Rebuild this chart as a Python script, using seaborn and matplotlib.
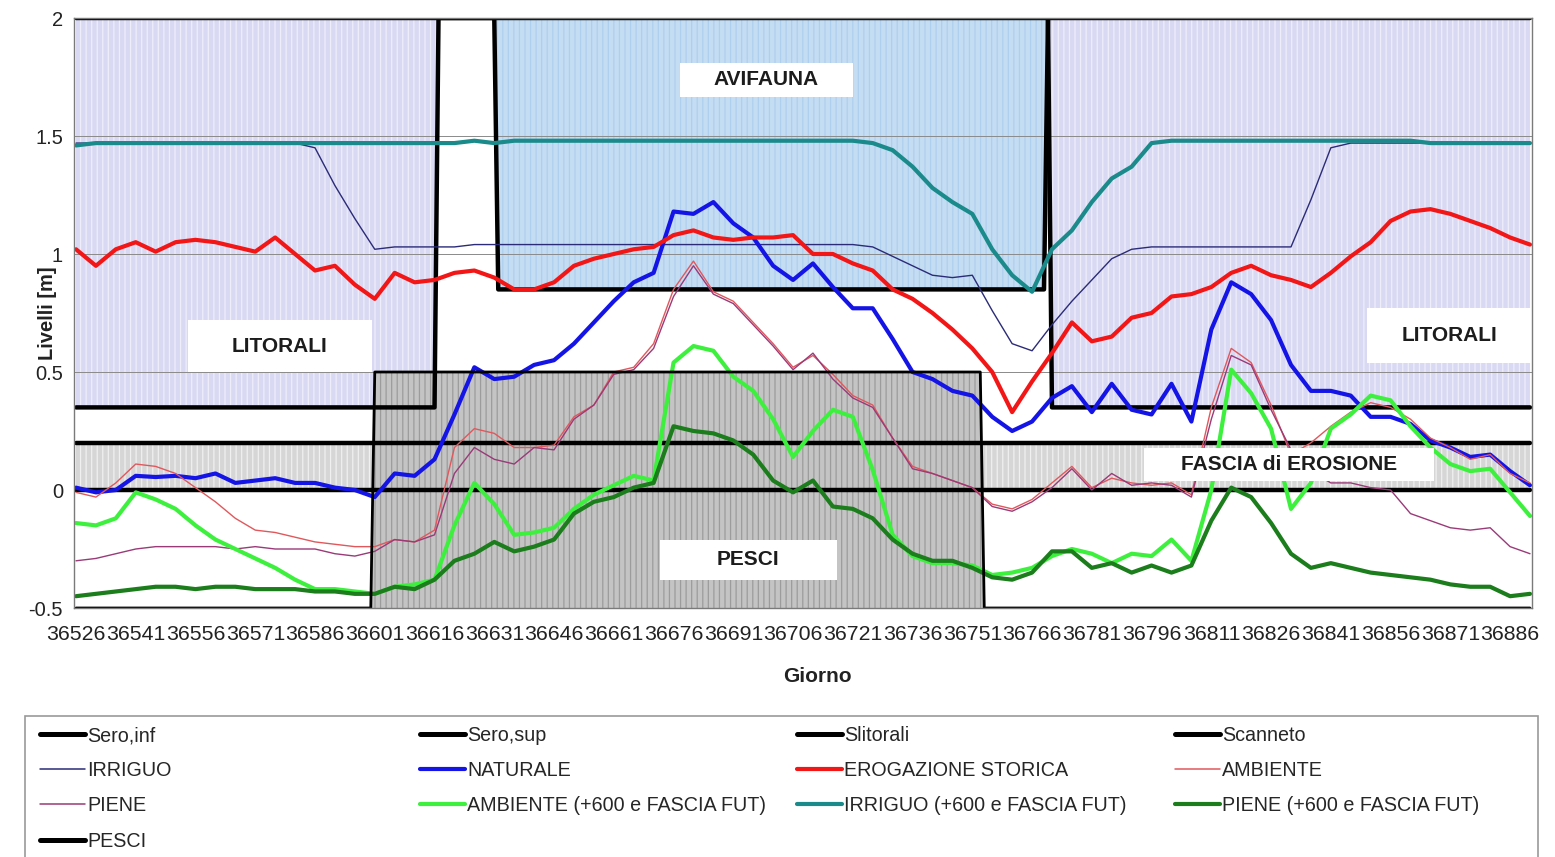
import numpy as np
import matplotlib
matplotlib.use("Agg")
import matplotlib.pyplot as plt
import seaborn as sns
from matplotlib.patches import Rectangle
from matplotlib.lines import Line2D
from matplotlib.ticker import FixedLocator

# ---------------- data ----------------
days = np.arange(36526, 36892, 5)  # sampled every 5 days

irriguo_fut = [1.46, 1.47, 1.47, 1.47, 1.47, 1.47, 1.47, 1.47, 1.47, 1.47,
               1.47, 1.47, 1.47, 1.47, 1.47, 1.47, 1.47, 1.47, 1.47, 1.47,
               1.48, 1.47, 1.48, 1.48, 1.48, 1.48, 1.48, 1.48, 1.48, 1.48,
               1.48, 1.48, 1.48, 1.48, 1.48, 1.48, 1.48, 1.48, 1.48, 1.48,
               1.47, 1.44, 1.37, 1.28, 1.22, 1.17, 1.02, 0.91, 0.84, 1.02,
               1.10, 1.22, 1.32, 1.37, 1.47, 1.48, 1.48, 1.48, 1.48, 1.48,
               1.48, 1.48, 1.48, 1.48, 1.48, 1.48, 1.48, 1.48, 1.47, 1.47,
               1.47, 1.47, 1.47, 1.47]

irriguo = [1.47, 1.47, 1.47, 1.47, 1.47, 1.47, 1.47, 1.47, 1.47, 1.47,
           1.47, 1.47, 1.45, 1.29, 1.15, 1.02, 1.03, 1.03, 1.03, 1.03,
           1.04, 1.04, 1.04, 1.04, 1.04, 1.04, 1.04, 1.04, 1.04, 1.04,
           1.04, 1.04, 1.04, 1.04, 1.04, 1.04, 1.04, 1.04, 1.04, 1.04,
           1.03, 0.99, 0.95, 0.91, 0.90, 0.91, 0.76, 0.62, 0.59, 0.70,
           0.80, 0.89, 0.98, 1.02, 1.03, 1.03, 1.03, 1.03, 1.03, 1.03,
           1.03, 1.03, 1.23, 1.45, 1.47, 1.47, 1.47, 1.47, 1.47, 1.47,
           1.47, 1.47, 1.47, 1.47]

erogazione = [1.02, 0.95, 1.02, 1.05, 1.01, 1.05, 1.06, 1.05, 1.03, 1.01,
              1.07, 1.00, 0.93, 0.95, 0.87, 0.81, 0.92, 0.88, 0.89, 0.92,
              0.93, 0.90, 0.85, 0.85, 0.88, 0.95, 0.98, 1.00, 1.02, 1.03,
              1.08, 1.10, 1.07, 1.06, 1.07, 1.07, 1.08, 1.00, 1.00, 0.96,
              0.93, 0.85, 0.81, 0.75, 0.68, 0.60, 0.50, 0.33, 0.46, 0.58,
              0.71, 0.63, 0.65, 0.73, 0.75, 0.82, 0.83, 0.86, 0.92, 0.95,
              0.91, 0.89, 0.86, 0.92, 0.99, 1.05, 1.14, 1.18, 1.19, 1.17,
              1.14, 1.11, 1.07, 1.04]

naturale = [0.01, -0.01, 0.00, 0.06, 0.055, 0.06, 0.05, 0.07, 0.03, 0.04,
            0.05, 0.03, 0.03, 0.01, 0.00, -0.03, 0.07, 0.06, 0.13, 0.32,
            0.52, 0.47, 0.48, 0.53, 0.55, 0.62, 0.71, 0.80, 0.88, 0.92,
            1.18, 1.17, 1.22, 1.13, 1.07, 0.95, 0.89, 0.96, 0.86, 0.77,
            0.77, 0.64, 0.50, 0.47, 0.42, 0.40, 0.31, 0.25, 0.29, 0.39,
            0.44, 0.33, 0.45, 0.34, 0.32, 0.45, 0.29, 0.68, 0.88, 0.83,
            0.72, 0.53, 0.42, 0.42, 0.40, 0.31, 0.31, 0.28, 0.21, 0.18,
            0.14, 0.15, 0.08, 0.02]

ambiente = [-0.01, -0.03, 0.03, 0.11, 0.10, 0.07, 0.01, -0.05, -0.12, -0.17,
            -0.18, -0.20, -0.22, -0.23, -0.24, -0.24, -0.21, -0.22, -0.17, 0.18,
            0.26, 0.24, 0.18, 0.18, 0.19, 0.31, 0.36, 0.50, 0.52, 0.62,
            0.85, 0.97, 0.84, 0.80, 0.71, 0.62, 0.52, 0.57, 0.49, 0.40,
            0.36, 0.22, 0.10, 0.07, 0.04, 0.01, -0.06, -0.08, -0.04, 0.03,
            0.10, 0.01, 0.05, 0.03, 0.02, 0.03, -0.02, 0.35, 0.60, 0.54,
            0.36, 0.15, 0.20, 0.27, 0.33, 0.37, 0.35, 0.30, 0.22, 0.18,
            0.13, 0.15, 0.07, 0.03]

piene = [-0.30, -0.29, -0.27, -0.25, -0.24, -0.24, -0.24, -0.24, -0.25, -0.24,
         -0.25, -0.25, -0.25, -0.27, -0.28, -0.26, -0.21, -0.22, -0.19, 0.07,
         0.18, 0.13, 0.11, 0.18, 0.17, 0.30, 0.36, 0.49, 0.51, 0.60,
         0.82, 0.95, 0.83, 0.79, 0.70, 0.61, 0.51, 0.58, 0.47, 0.39,
         0.35, 0.22, 0.09, 0.07, 0.04, 0.01, -0.07, -0.09, -0.05, 0.01,
         0.09, 0.00, 0.07, 0.02, 0.03, 0.02, -0.03, 0.30, 0.57, 0.53,
         0.34, 0.17, 0.08, 0.03, 0.03, 0.01, 0.00, -0.10, -0.13, -0.16,
         -0.17, -0.16, -0.24, -0.27]

ambiente_fut = [-0.14, -0.15, -0.12, -0.01, -0.04, -0.08, -0.15, -0.21, -0.25, -0.29,
                -0.33, -0.38, -0.42, -0.42, -0.43, -0.44, -0.41, -0.40, -0.38, -0.15,
                0.03, -0.06, -0.19, -0.18, -0.16, -0.08, -0.02, 0.02, 0.06, 0.04,
                0.54, 0.61, 0.59, 0.48, 0.42, 0.30, 0.14, 0.25, 0.34, 0.31,
                0.085, -0.19, -0.28, -0.31, -0.31, -0.32, -0.36, -0.35, -0.33, -0.28,
                -0.25, -0.27, -0.31, -0.27, -0.28, -0.21, -0.30, 0.00, 0.51, 0.41,
                0.26, -0.08, 0.03, 0.26, 0.32, 0.40, 0.38, 0.27, 0.18, 0.11,
                0.08, 0.09, -0.01, -0.11]

piene_fut = [-0.45, -0.44, -0.43, -0.42, -0.41, -0.41, -0.42, -0.41, -0.41, -0.42,
             -0.42, -0.42, -0.43, -0.43, -0.44, -0.44, -0.41, -0.42, -0.38, -0.30,
             -0.27, -0.22, -0.26, -0.24, -0.21, -0.10, -0.05, -0.03, 0.01, 0.03,
             0.27, 0.25, 0.24, 0.21, 0.15, 0.04, -0.01, 0.04, -0.07, -0.08,
             -0.12, -0.21, -0.27, -0.30, -0.30, -0.33, -0.37, -0.38, -0.35, -0.26,
             -0.26, -0.33, -0.31, -0.35, -0.32, -0.35, -0.32, -0.13, 0.01, -0.03,
             -0.14, -0.27, -0.33, -0.31, -0.33, -0.35, -0.36, -0.37, -0.38, -0.40,
             -0.41, -0.41, -0.45, -0.44]

# threshold (step) series
full_days = [36526, 36891]
sero_inf = [0.0, 0.0]
sero_sup = [0.2, 0.2]
slit_days = [36526, 36616, 36617, 36770, 36771, 36891]
slitorali = [0.35, 0.35, 2.0, 2.0, 0.35, 0.35]
scan_days = [36526, 36631, 36632, 36769, 36770, 36891]
scanneto = [2.0, 2.0, 0.85, 0.85, 2.0, 2.0]
pesci_days = [36526, 36600, 36601, 36753, 36754, 36891]
pesci = [-0.5, -0.5, 0.5, 0.5, -0.5, -0.5]

x_labels = [str(v) for v in range(36526, 36887, 15)]
y_ticks = [-0.5, 0, 0.5, 1, 1.5, 2]
y_labels = ["-0.5", "0", "0.5", "1", "1.5", "2"]

# ---------------- style ----------------
sns.set_style("white")
plt.rcParams["font.family"] = ["Liberation Sans", "DejaVu Sans"]
plt.rcParams["hatch.linewidth"] = 0.9

W, H = 1555, 857
fig = plt.figure(figsize=(W / 100, H / 100), dpi=100)
L, R, T, B = 74, 1532, 18, 608
ax = fig.add_axes([L / W, 1 - B / H, (R - L) / W, (B - T) / H])
ax.set_xlim(36525.5, 36891.5)
ax.set_ylim(-0.5, 2)

# background zones
ax.fill_between(slit_days, slitorali, 2, facecolor="#d9d9f3", edgecolor="#eeeefb",
                hatch="|||", linewidth=0, zorder=1)
ax.fill_between(scan_days, scanneto, 2, facecolor="#c4ddf3", edgecolor="#afcfee",
                hatch="|||", linewidth=0, zorder=1)
ax.fill_between(full_days, sero_inf, sero_sup, facecolor="#d6d6d6", edgecolor="#f0f0f0",
                hatch="|||", linewidth=0, zorder=1)
ax.fill_between(pesci_days, -0.5, pesci, facecolor="#c4c4c4", edgecolor="#9c9c9c",
                hatch="|||", linewidth=0, zorder=1.1)

for gy in [0.5, 1.0, 1.5]:
    ax.axhline(gy, color="#8a8a8a", lw=0.7, zorder=1.5)

# label boxes (drawn above the series, as in the reference)
def label_box(x0, x1, y0, y1, text):
    ax.add_patch(Rectangle((x0, y0), x1 - x0, y1 - y0, facecolor="white",
                           edgecolor="none", zorder=10))
    ax.text((x0 + x1) / 2, (y0 + y1) / 2, text, ha="center", va="center",
            fontsize=15, fontweight="bold", color="#1c1c1c", zorder=11)

label_box(36677.5, 36721, 1.665, 1.81, "AVIFAUNA")
label_box(36554, 36600.4, 0.50, 0.72, "LITORALI")
label_box(36850, 36891.5, 0.54, 0.77, "LITORALI")
label_box(36672.5, 36717, -0.38, -0.21, "PESCI")
label_box(36794, 36867, 0.04, 0.18, "FASCIA di EROSIONE")

# lines (Excel series order)
TH = 3.0
series = [
    (full_days, sero_inf, "black", 3.2, "Sero,inf"),
    (full_days, sero_sup, "black", 3.2, "Sero,sup"),
    (slit_days, slitorali, "black", 3.2, "Slitorali"),
    (scan_days, scanneto, "black", 3.2, "Scanneto"),
    (days, irriguo, "#2b2b78", 1.0, "IRRIGUO"),
    (days, naturale, "#1414e6", TH, "NATURALE"),
    (days, erogazione, "#f21616", TH, "EROGAZIONE STORICA"),
    (days, ambiente, "#e0585c", 1.0, "AMBIENTE"),
    (days, piene, "#9a3a78", 1.0, "PIENE"),
    (days, ambiente_fut, "#3ef03e", TH, "AMBIENTE (+600 e FASCIA FUT)"),
    (days, irriguo_fut, "#1a8a8a", TH, "IRRIGUO (+600 e FASCIA FUT)"),
    (days, piene_fut, "#1b7d1b", TH, "PIENE (+600 e FASCIA FUT)"),
    (pesci_days, pesci, "black", 2.0, "PESCI"),
]
handles = {}
for i, (xx, yy, c, lw, name) in enumerate(series):
    sns.lineplot(x=list(xx), y=list(yy), ax=ax, color=c, linewidth=lw,
                 estimator=None, sort=False, legend=False, zorder=3 + i * 0.1)
    handles[name] = Line2D([], [], color=c, lw=(3.6 if c == "black" else (3.0 if lw > 1.5 else 1.1)))

# axes styling
for s in ax.spines.values():
    s.set_color("#7a7a7a")
    s.set_linewidth(1.0)
    s.set_zorder(12)

ax.set_xticks(np.arange(36526, 36887, 15))
ax.set_xticklabels(x_labels, fontsize=15.3, color="#222222")
ax.tick_params(axis="x", which="major", length=0, pad=12)
ax.xaxis.set_minor_locator(FixedLocator(np.arange(36525.5, 36892, 10)))
ax.tick_params(axis="x", which="minor", length=5, width=1, color="#555555", direction="out")
ax.set_yticks(y_ticks)
ax.set_yticklabels(y_labels, fontsize=14.5, color="#222222")
ax.tick_params(axis="y", which="major", length=5, width=1, color="#555555", pad=3)
ax.set_xlabel("")
ax.set_ylabel("Livelli [m]", fontsize=14.5, fontweight="bold", color="#222222")
ax.yaxis.set_label_coords(-0.0115, 0.5)
ax.grid(False)

fig.text(817 / W, 1 - 677 / H, "Giorno", ha="center", va="center",
         fontsize=15, fontweight="bold", color="#222222")

# legend: four columns, row-major order like the reference
cols = [
    ["Sero,inf", "IRRIGUO", "PIENE", "PESCI"],
    ["Sero,sup", "NATURALE", "AMBIENTE (+600 e FASCIA FUT)"],
    ["Slitorali", "EROGAZIONE STORICA", "IRRIGUO (+600 e FASCIA FUT)"],
    ["Scanneto", "AMBIENTE", "PIENE (+600 e FASCIA FUT)"],
]
col_x = [40, 420, 797, 1175]
for cx, names in zip(col_x, cols):
    fig.legend([handles[n] for n in names], names, loc="upper left",
               bbox_to_anchor=(cx / W, 1 - 726 / H), frameon=False,
               fontsize=14.2, handlelength=2.3, handletextpad=0.1,
               labelspacing=0.82, borderpad=0, borderaxespad=0)
fig.add_artist(Rectangle((25 / W, -0.02), (1538 - 25) / W, (857 - 716) / H + 0.02,
                         transform=fig.transFigure, facecolor="none",
                         edgecolor="#9a9a9a", lw=1.2))

fig.savefig("out.png", dpi=100)
